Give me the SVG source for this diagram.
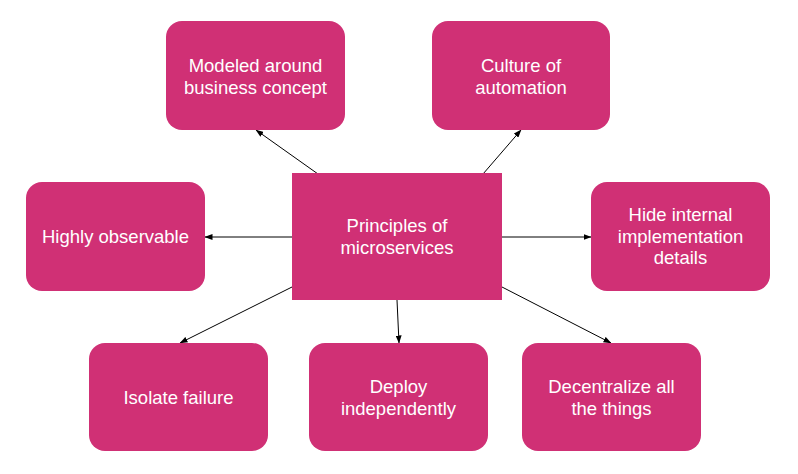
<svg xmlns="http://www.w3.org/2000/svg" width="798" height="474" viewBox="0 0 798 474">
<style>
.box{fill:#D03075;}
.t{fill:#ffffff;font-family:"Liberation Sans",Arial,sans-serif;font-size:18.5px;text-anchor:middle;}
.c{stroke:#000000;stroke-width:1;fill:none;marker-end:url(#ah);}
</style>
<defs>
<marker id="ah" markerWidth="8" markerHeight="6" refX="7.5" refY="3" orient="auto" markerUnits="userSpaceOnUse">
<path d="M0,0 L8,3 L0,6 Z" fill="#000000"/>
</marker>
</defs>
<rect width="798" height="474" fill="#ffffff"/>
<g id="connectors">
<line class="c" x1="318" y1="174" x2="256" y2="130"/>
<line class="c" x1="483" y1="174" x2="521" y2="130"/>
<line class="c" x1="292" y1="237" x2="205" y2="237"/>
<line class="c" x1="502" y1="237" x2="591" y2="237"/>
<line class="c" x1="292" y1="287" x2="180" y2="343"/>
<line class="c" x1="397" y1="300" x2="399" y2="343"/>
<line class="c" x1="502" y1="287" x2="611" y2="343"/>
</g>
<g id="center">
<rect class="box" x="292" y="173" width="210" height="127"/>
<text class="t" x="397" y="232">Principles of</text>
<text class="t" x="397" y="253.5">microservices</text>
</g>
<g id="modeled">
<rect class="box" x="166" y="21" width="179" height="109" rx="16"/>
<text class="t" x="255.5" y="72">Modeled around</text>
<text class="t" x="255.5" y="93.5">business concept</text>
</g>
<g id="culture">
<rect class="box" x="432" y="21" width="178" height="109" rx="16"/>
<text class="t" x="521" y="72">Culture of</text>
<text class="t" x="521" y="93.5">automation</text>
</g>
<g id="observable">
<rect class="box" x="26" y="182" width="179" height="109" rx="16"/>
<text class="t" x="115.5" y="243">Highly observable</text>
</g>
<g id="hide">
<rect class="box" x="591" y="182" width="179" height="109" rx="16"/>
<text class="t" x="680.5" y="221">Hide internal</text>
<text class="t" x="680.5" y="242.5">implementation</text>
<text class="t" x="680.5" y="264">details</text>
</g>
<g id="isolate">
<rect class="box" x="89" y="343" width="179" height="108" rx="16"/>
<text class="t" x="178.5" y="403.5">Isolate failure</text>
</g>
<g id="deploy">
<rect class="box" x="309" y="343" width="179" height="108" rx="16"/>
<text class="t" x="398.5" y="393">Deploy</text>
<text class="t" x="398.5" y="414.5">independently</text>
</g>
<g id="decentralize">
<rect class="box" x="522" y="343" width="179" height="108" rx="16"/>
<text class="t" x="611.5" y="393">Decentralize all</text>
<text class="t" x="611.5" y="414.5">the things</text>
</g>
</svg>
